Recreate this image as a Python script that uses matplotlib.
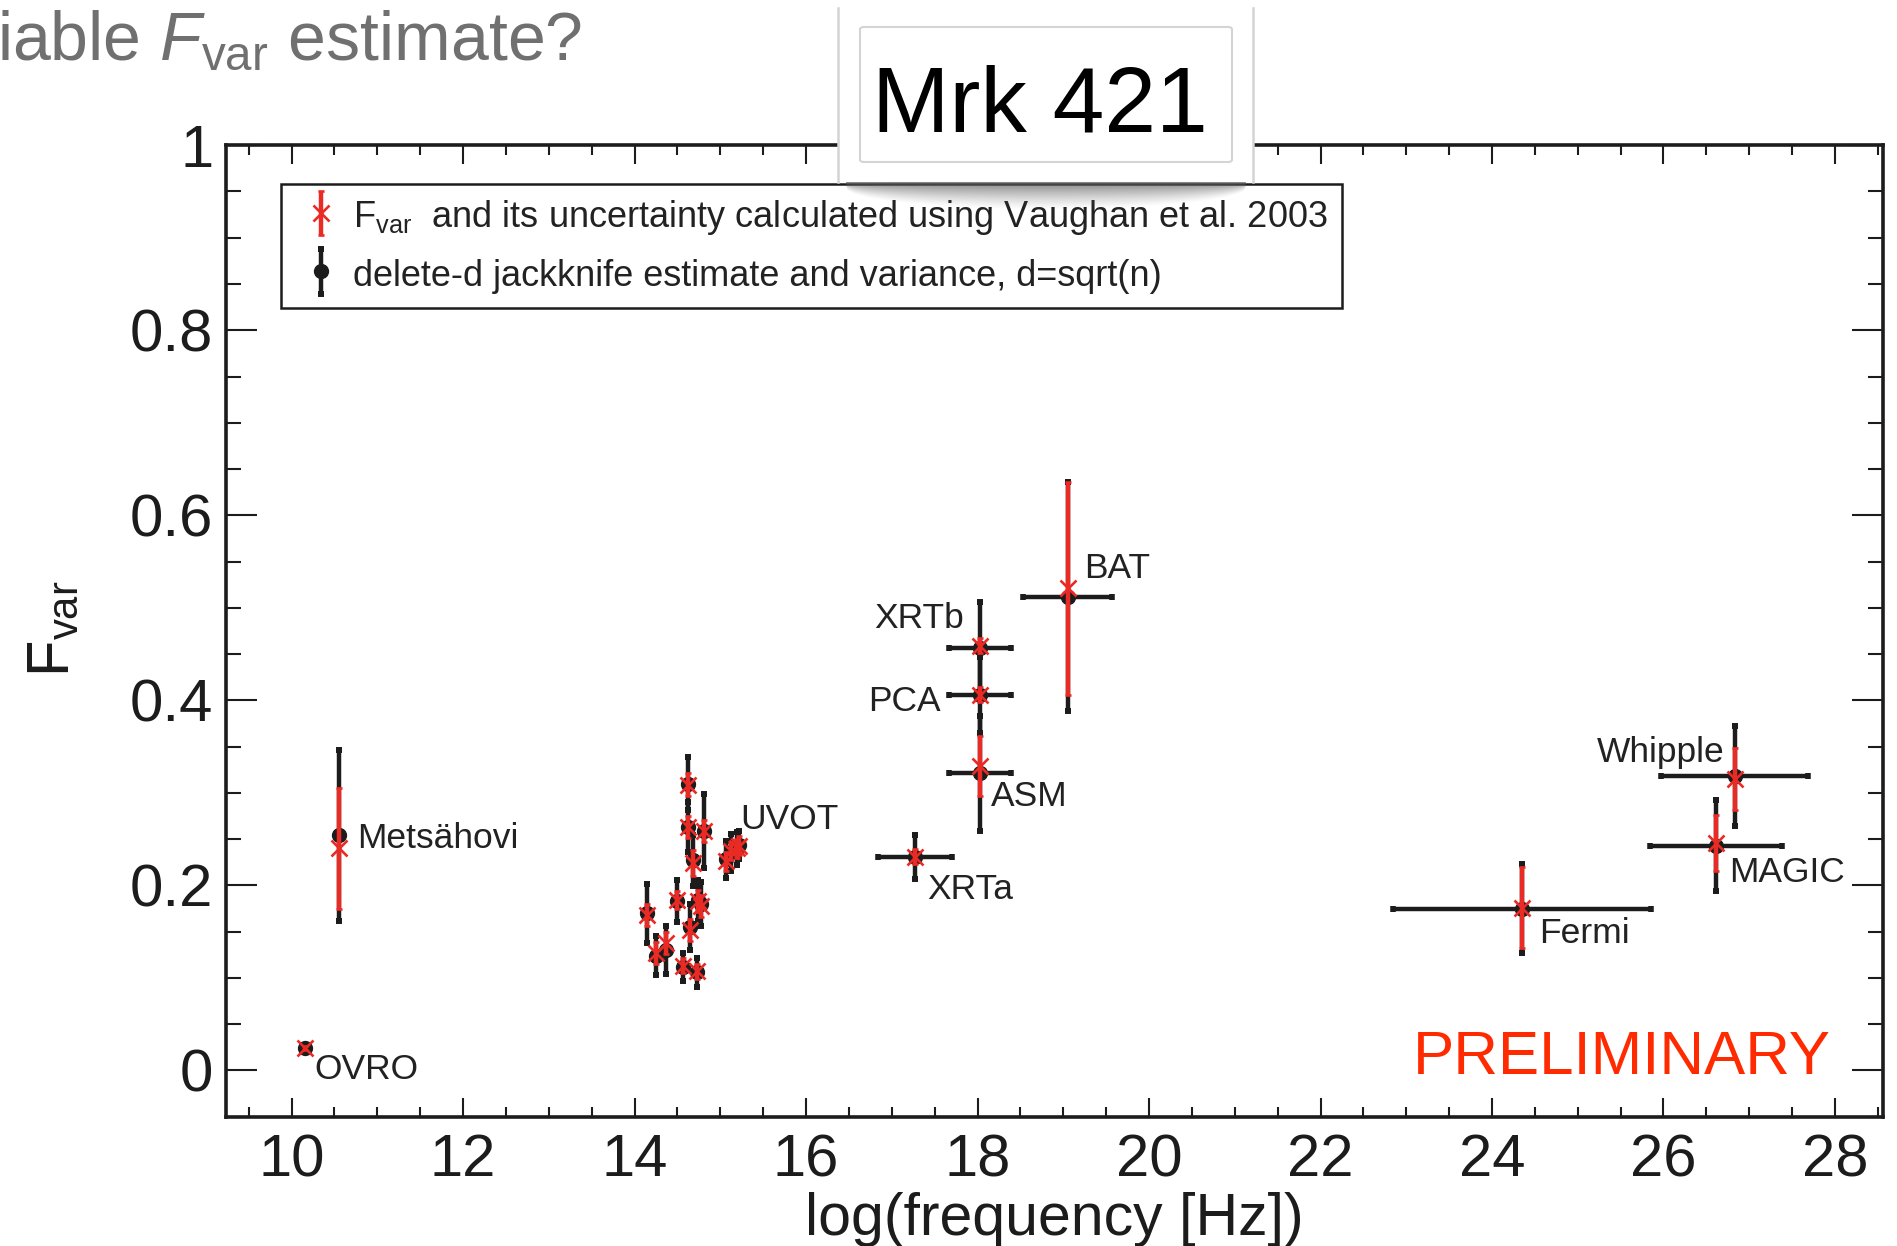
import numpy as np
import matplotlib
matplotlib.use("Agg")
import matplotlib.pyplot as plt
from matplotlib.patches import Rectangle, FancyBboxPatch
from matplotlib.lines import Line2D
from matplotlib.legend_handler import HandlerErrorbar
from matplotlib.container import ErrorbarContainer
from matplotlib.ticker import MultipleLocator, FuncFormatter

plt.rcParams["font.family"] = ["Liberation Sans", "DejaVu Sans"]
plt.rcParams["mathtext.fontset"] = "custom"
plt.rcParams["mathtext.rm"] = "Liberation Sans"
plt.rcParams["mathtext.it"] = "Liberation Sans:italic"
plt.rcParams["mathtext.bf"] = "Liberation Sans:bold"

# ---------------------------------------------------------------- data
band = ["OVRO", "Metsähovi",
        "UVOT", "UVOT", "UVOT", "UVOT", "UVOT", "UVOT", "UVOT", "UVOT", "UVOT",
        "UVOT", "UVOT", "UVOT", "UVOT", "UVOT", "UVOT", "UVOT", "UVOT",
        "XRTa", "XRTb", "PCA", "ASM", "BAT", "Fermi", "MAGIC", "Whipple"]
log_freq = [10.16, 10.55,
            14.14, 14.25, 14.37, 14.49, 14.57, 14.62, 14.62, 14.645, 14.684,
            14.74, 14.78, 14.73, 14.81, 15.07, 15.13, 15.19, 15.22,
            17.27, 18.03, 18.03, 18.03, 19.05, 24.35, 26.61, 26.83]
log_freq_err = [0, 0,
                0, 0, 0, 0, 0, 0, 0, 0, 0,
                0, 0, 0, 0, 0, 0, 0, 0,
                0.43, 0.36, 0.36, 0.36, 0.52, 1.50, 0.77, 0.86]
# delete-d jackknife estimate and its spread
fvar_jk = [0.024, 0.254,
           0.170, 0.124, 0.130, 0.183, 0.112, 0.310, 0.263, 0.155, 0.227,
           0.184, 0.180, 0.106, 0.259, 0.228, 0.236, 0.240, 0.244,
           0.231, 0.457, 0.406, 0.321, 0.512, 0.175, 0.243, 0.318]
fvar_jk_err = [0.003, 0.092,
               0.032, 0.021, 0.026, 0.023, 0.015, 0.029, 0.027, 0.025, 0.028,
               0.022, 0.024, 0.016, 0.040, 0.020, 0.020, 0.018, 0.015,
               0.024, 0.049, 0.041, 0.062, 0.124, 0.048, 0.049, 0.054]
# Vaughan et al. (2003) estimate and uncertainty
fvar_vaughan = [0.024, 0.240,
                0.168, 0.127, 0.138, 0.184, 0.113, 0.309, 0.263, 0.152, 0.224,
                0.183, 0.178, 0.107, 0.259, 0.226, 0.237, 0.240, 0.243,
                0.231, 0.459, 0.406, 0.329, 0.521, 0.176, 0.246, 0.315]
fvar_vaughan_err = [0.002, 0.065,
                    0.012, 0.012, 0.012, 0.010, 0.008, 0.012, 0.012, 0.012, 0.014,
                    0.012, 0.012, 0.008, 0.012, 0.010, 0.010, 0.010, 0.010,
                    0.008, 0.008, 0.008, 0.032, 0.115, 0.044, 0.030, 0.034]

legend_labels = [r"F$_{\mathrm{var}}$  and its uncertainty calculated using Vaughan et al. 2003",
                 "delete-d jackknife estimate and variance, d=sqrt(n)"]

# ---------------------------------------------------------------- layout
W, H = 1897, 1246
BLACK = "#1c1c1c"
RED = "#ea2a25"
TEXT = "#222222"

# label placement: offset in pixels from the band's last point, alignment
label_layout = {
    "OVRO": (9, -21, "left"),
    "Metsähovi": (18, -3, "left"),
    "UVOT": (1, 25, "left"),
    "XRTa": (12, -33, "left"),
    "XRTb": (-16, 29, "right"),
    "PCA": (-39, -7, "right"),
    "ASM": (11, -23, "left"),
    "BAT": (17, 28, "left"),
    "Fermi": (17, -25, "left"),
    "MAGIC": (13, -27, "left"),
    "Whipple": (-10, 24, "right"),
}


def fx(px):
    return px / W


def fy(py):
    return 1 - py / H


x = np.array(log_freq)
xe = np.array(log_freq_err)
yj = np.array(fvar_jk)
yje = np.array(fvar_jk_err)
yv = np.array(fvar_vaughan)
yve = np.array(fvar_vaughan_err)

fig = plt.figure(figsize=(W / 100, H / 100), dpi=100)
ax = fig.add_axes([fx(226), fy(1116.7), fx(1883) - fx(226), fy(145.2) - fy(1116.7)])

# horizontal (frequency) extent of the broad-band instruments
has_xerr = xe > 0
ax.errorbar(x[has_xerr], yj[has_xerr], xerr=xe[has_xerr], fmt="none",
            ecolor=BLACK, elinewidth=3.2, capsize=2.3, capthick=4.0, zorder=2)

# jackknife estimates
blk = ax.errorbar(x, yj, yerr=yje, fmt="o", color=BLACK, ms=10, mec=BLACK,
                  ecolor=BLACK, elinewidth=3.2, capsize=2.5, capthick=4.3, zorder=3)
# Vaughan et al. estimates
red = ax.errorbar(x, yv, yerr=yve, fmt="x", color=RED, ms=11, mew=1.9,
                  ecolor=RED, elinewidth=3.2, capsize=2.5, capthick=4.3, zorder=4)

# instrument labels
names = list(dict.fromkeys(band))
for name in names:
    idx = max(i for i, b in enumerate(band) if b == name)
    dx, dy, ha = label_layout[name]
    ax.annotate(name, xy=(x[idx], yj[idx]), xytext=(dx, dy),
                textcoords="offset pixels", ha=ha, va="center",
                fontsize=25.5, color=TEXT, zorder=6)

ax.text(0.9684, 0.044, "PRELIMINARY", transform=ax.transAxes, ha="right",
        va="baseline", fontsize=44.5, color="#ff2a00")

# axes styling
ax.set_xlim(9.235, 28.56)
ax.set_ylim(-0.05, 1.0)
ax.xaxis.set_major_locator(MultipleLocator(2))
ax.xaxis.set_minor_locator(MultipleLocator(0.5))
ax.yaxis.set_major_locator(MultipleLocator(0.2))
ax.yaxis.set_minor_locator(MultipleLocator(0.05))
ax.yaxis.set_major_formatter(FuncFormatter(lambda v, p: f"{v:g}"))
ax.tick_params(which="both", direction="in", top=True, right=True,
               width=1.5, color=BLACK, labelcolor=BLACK)
ax.tick_params(axis="x", which="major", length=14, pad=12, labelsize=43)
ax.tick_params(axis="x", which="minor", length=7)
ax.tick_params(axis="y", which="major", length=22, pad=9, labelsize=43)
ax.tick_params(axis="y", which="minor", length=11)
for s in ax.spines.values():
    s.set_linewidth(2.6)
    s.set_color(BLACK)

ax.set_xlabel("log(frequency [Hz])", fontsize=42.5, color=BLACK)
ax.xaxis.set_label_coords(0.5, -0.077)
fig.text(fx(53), fy(629), r"F$_{\mathrm{var}}$", rotation=90, ha="center",
         va="center", fontsize=43, color=BLACK)

leg = ax.legend([red, blk], legend_labels, loc="upper left",
                bbox_to_anchor=((280.7 - 226) / (1883 - 226), (1116.7 - 183.9) / (1116.7 - 145.2)),
                borderaxespad=0, fontsize=26, frameon=True, fancybox=False,
                edgecolor=BLACK, framealpha=1, handlelength=1.42, handletextpad=0.18,
                handleheight=1.0, labelspacing=0.55, borderpad=0.4, numpoints=1,
                handler_map={ErrorbarContainer: HandlerErrorbar(yerr_size=0.62)})
leg.get_frame().set_linewidth(1.8)
for t in leg.get_texts():
    t.set_color(TEXT)

# slide heading, partly running off the left edge
fig.text(fx(582), fy(60), r"Reliable $\mathit{F}_{\mathrm{var}}$ estimate?",
         ha="right", va="baseline", fontsize=49, color="#707070")

# source name card with drop shadow
sx0, sx1, sy0, sy1 = 846, 1246, 182, 212
sh_ax = fig.add_axes([fx(sx0), fy(sy1), fx(sx1) - fx(sx0), fy(sy0) - fy(sy1)], zorder=9)
sh_ax.axis("off")
nx, ny = sx1 - sx0, sy1 - sy0
u = np.linspace(-1, 1, nx)
v = np.arange(ny) + 0.5
depth = 6 + 22 * np.sqrt(np.clip(1 - u ** 2, 0, 1))
alpha = 0.75 * np.clip(1 - v[:, None] / depth[None, :], 0, 1) ** 1.3
rgba = np.zeros((ny, nx, 4))
rgba[..., :3] = 0.35
rgba[..., 3] = alpha
sh_ax.imshow(rgba, aspect="auto", interpolation="bilinear")

card = Rectangle((fx(838), fy(182)), fx(1253) - fx(838), fy(4) - fy(182),
                 transform=fig.transFigure, facecolor="white", edgecolor="none", zorder=10)
fig.add_artist(card)
for px_ in (838, 1253):
    fig.add_artist(Line2D([fx(px_), fx(px_)], [fy(8), fy(182)], color="#d4d4d4",
                          lw=1.8, transform=fig.transFigure, zorder=11))
inner = FancyBboxPatch((fx(860), fy(162)), fx(1232) - fx(860), fy(27) - fy(162),
                       boxstyle="round,pad=0,rounding_size=0.002",
                       transform=fig.transFigure, facecolor="white",
                       edgecolor="#d4d4d4", lw=1.5, zorder=11)
fig.add_artist(inner)
fig.text(fx(1040), fy(132), "Mrk 421", ha="center", va="baseline", fontsize=67,
         color="black", zorder=12)

fig.savefig("out.png", dpi=100)
